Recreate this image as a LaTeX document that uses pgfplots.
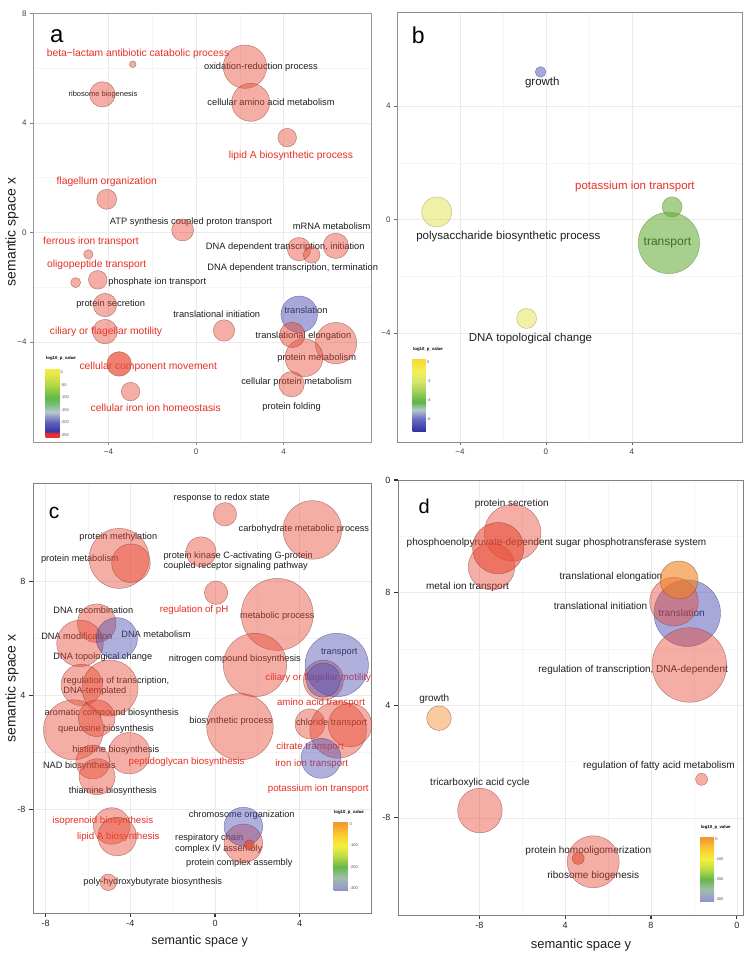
\documentclass[border=0pt]{standalone}
\usepackage{pgfplots}
\pgfplotsset{compat=1.18}
\usepackage{fontspec}
\setmainfont{Liberation Sans}

\definecolor{lblred}{RGB}{232,45,35}
\definecolor{txt}{RGB}{30,30,30}
\definecolor{bred}{RGB}{232,75,55}
\definecolor{bredd}{RGB}{130,60,50}
\definecolor{bblue}{RGB}{80,80,180}
\definecolor{bblued}{RGB}{60,60,130}
\definecolor{byel}{RGB}{225,225,80}
\definecolor{byeld}{RGB}{150,150,70}
\definecolor{bgreen}{RGB}{95,170,45}
\definecolor{bgreend}{RGB}{90,130,60}
\definecolor{borange}{RGB}{240,130,30}
\definecolor{bltorange}{RGB}{245,160,80}

\pgfplotsset{
  colormap={cma}{rgb255(0pt)=(235,45,45); rgb255(1.2pt)=(235,45,45); rgb255(2.4pt)=(60,55,165); rgb255(5.8pt)=(95,95,190); rgb255(10pt)=(185,200,210); rgb255(13pt)=(120,190,120); rgb255(15.8pt)=(95,185,70); rgb255(20.8pt)=(180,215,70); rgb255(25.8pt)=(235,235,70); rgb255(27.6pt)=(240,235,70)},
  colormap={cmb}{rgb255(0pt)=(50,50,160); rgb255(3.7pt)=(105,105,195); rgb255(6.7pt)=(180,200,200); rgb255(9.1pt)=(90,180,70); rgb255(12.7pt)=(165,210,90); rgb255(15.7pt)=(215,230,110); rgb255(18.7pt)=(240,240,90); rgb255(22.9pt)=(250,215,45)},
  colormap={cmc}{rgb255(0pt)=(140,145,200); rgb255(1.2pt)=(150,155,200); rgb255(6.2pt)=(160,190,170); rgb255(11.2pt)=(100,185,70); rgb255(16.2pt)=(190,220,70); rgb255(21.2pt)=(245,240,60); rgb255(26.2pt)=(250,205,50); rgb255(31.2pt)=(245,155,50); rgb255(32.4pt)=(245,150,50)},
  bub/.style n args={3}{scatter, only marks, mark=*,
    scatter/use mapped color={draw=#2, fill=#1, fill opacity=#3, draw opacity=0.6, line width=0.45pt},
    visualization depends on={\thisrow{r}\as\rr},
    scatter/@pre marker code/.append style={/tikz/mark size=\rr}},
  panel/.style={scale only axis, clip=false, anchor=south west,
    grid=both, minor tick num=1, minor tick length=0pt,
    major grid style={black!8, line width=0.5pt},
    minor grid style={black!4, line width=0.4pt},
    xtick pos=bottom, ytick pos=left,
    tick align=outside},
  cbar/.style n args={7}{colorbar, point meta min=#5, point meta max=#6,
    colorbar style={at={(parent axis.south west)}, anchor=south west,
      xshift=#1, yshift=#2, scale only axis, width=#3, height=#4,
      grid=none, ytick={#7}, yticklabel pos=right,
      /pgf/number format/assume math mode=true,
      yticklabel style={font=\fontsize{4}{4}\selectfont, text=black!70, inner sep=1pt},
      major tick length=0pt, axis line style={draw=none},
      title={log10\_p\_value},
      title style={at={(0,1)}, anchor=south west, inner sep=0.5pt, yshift=0.5pt,
        font=\fontsize{4.3}{5}\selectfont\bfseries}}},
}
\tikzset{
  la/.style={font=\fontsize{9.3}{10}\selectfont, text=txt, inner sep=0pt},
  lar/.style={font=\fontsize{10.3}{11}\selectfont, text=lblred, inner sep=0pt},
  lb/.style={font=\fontsize{11.5}{12}\selectfont, text=txt, inner sep=0pt},
  lbr/.style={font=\fontsize{11.5}{12}\selectfont, text=lblred, inner sep=0pt},
  lc/.style={font=\fontsize{9.2}{10.5}\selectfont, text=txt, inner sep=0pt},
  lcr/.style={font=\fontsize{9.7}{11}\selectfont, text=lblred, inner sep=0pt},
  ld/.style={font=\fontsize{10}{11}\selectfont, text=txt, inner sep=0pt},
}

\begin{document}
\begin{tikzpicture}
\path[use as bounding box] (0,0) rectangle (747pt,-954pt);

% ---------------- panel a ----------------
\begin{axis}[panel, at={(33pt,-442pt)}, width=338pt, height=429pt,
  xmin=-7.45, xmax=8.0, ymin=-7.65, ymax=8.01,
  xtick={-4,0,4}, xticklabels={−4,0,4},
  ytick={-4,0,4,8}, yticklabels={−4,0,4,8},
  tick label style={font=\fontsize{8}{9}\selectfont, text=black!75},
  axis line style={black!40, line width=0.6pt},
  tick style={black!50, line width=0.5pt}, major tick length=3pt,
  colormap name=cma,
  cbar={4pt}{5pt}{14pt}{69pt}{-258}{18}{-250,-200,-150,-100,-50,0}]
\addplot[bub={bred}{bredd}{0.45}] table[row sep=\\] {
X Y r\\
-2.89 6.14 3.3\\
2.24 6.05 21.7\\
-4.28 5.04 12.7\\
2.50 4.75 19\\
4.17 3.46 9.3\\
-4.08 1.21 10\\
-0.61 0.09 11\\
4.71 -0.61 11.7\\
5.29 -0.82 8.3\\
6.39 -0.49 12.7\\
-4.92 -0.80 4.7\\
-4.49 -1.73 9.3\\
-5.50 -1.83 5\\
-4.16 -2.65 11.7\\
1.28 -3.58 10.7\\
-4.16 -3.62 12.3\\
6.40 -4.04 20.7\\
4.94 -4.57 19\\
4.37 -5.54 12.7\\
-2.99 -5.81 9.3\\
};
\addplot[bub={bblue}{bblued}{0.5}] table[row sep=\\] {
X Y r\\
4.72 -2.99 18.3\\
};
\addplot[bub={bred}{bredd}{0.5}] table[row sep=\\] {
X Y r\\
4.40 -3.74 12.7\\
};
\addplot[bub={bred}{bredd}{0.7}] table[row sep=\\] {
X Y r\\
-3.51 -4.80 12.3\\
};
\node[lar] at (axis cs:-2.65,6.51) {beta−lactam antibiotic catabolic process};
\node[la] at (axis cs:2.97,6.05) {oxidation-reduction process};
\node[la, font=\fontsize{7.5}{8}\selectfont] at (axis cs:-4.25,5.05) {ribosome biogenesis};
\node[la] at (axis cs:3.43,4.77) {cellular amino acid metabolism};
\node[lar] at (axis cs:4.34,2.79) {lipid A biosynthetic process};
\node[lar] at (axis cs:-4.08,1.83) {flagellum organization};
\node[la] at (axis cs:-0.23,0.38) {ATP synthesis coupled proton transport};
\node[la] at (axis cs:6.20,0.24) {mRNA metabolism};
\node[la] at (axis cs:4.08,-0.52) {DNA dependent transcription, initiation};
\node[la] at (axis cs:4.42,-1.31) {DNA dependent transcription, termination};
\node[lar] at (axis cs:-4.80,-0.34) {ferrous iron transport};
\node[lar] at (axis cs:-4.54,-1.19) {oligopeptide transport};
\node[la] at (axis cs:-1.77,-1.83) {phosphate ion transport};
\node[la] at (axis cs:-3.90,-2.61) {protein secretion};
\node[la] at (axis cs:0.95,-2.97) {translational initiation};
\node[la] at (axis cs:5.03,-2.85) {translation};
\node[lar] at (axis cs:-4.11,-3.62) {ciliary or flagellar motility};
\node[la] at (axis cs:4.91,-3.80) {translational elongation};
\node[la] at (axis cs:5.52,-4.57) {protein metabolism};
\node[lar] at (axis cs:-2.18,-4.90) {cellular component movement};
\node[la] at (axis cs:4.60,-5.45) {cellular protein metabolism};
\node[lar] at (axis cs:-1.84,-6.42) {cellular iron ion homeostasis};
\node[la] at (axis cs:4.37,-6.39) {protein folding};
\end{axis}

% ---------------- panel b ----------------
\begin{axis}[panel, at={(397pt,-442pt)}, width=345pt, height=430pt,
  xmin=-6.93, xmax=9.12, ymin=-7.83, ymax=7.31,
  xtick={-4,0,4}, xticklabels={−4,0,4},
  ytick={-4,0,4}, yticklabels={−4,0,4},
  tick label style={font=\fontsize{8}{9}\selectfont, text=black!75},
  axis line style={black!45, line width=0.6pt},
  tick style={black!60, line width=0.5pt}, major tick length=3pt,
  colormap name=cmb,
  cbar={7pt}{11pt}{13.4pt}{72.7pt}{-7.24}{0.39}{-6,-4,-2,0}]
\addplot[bub={bblue}{bblued}{0.5}] table[row sep=\\] {
X Y r\\
-0.25 5.20 5.3\\
};
\addplot[bub={byel}{byeld}{0.5}] table[row sep=\\] {
X Y r\\
-5.08 0.27 15\\
-0.90 -3.48 10\\
};
\addplot[bub={bgreen}{bgreend}{0.55}] table[row sep=\\] {
X Y r\\
5.72 -0.82 30.7\\
5.87 0.45 10\\
};
\node[lb] at (axis cs:-0.17,4.82) {growth};
\node[lb] at (axis cs:-1.75,-0.61) {polysaccharide biosynthetic process};
\node[lbr] at (axis cs:4.14,1.18) {potassium ion transport};
\node[lb, font=\fontsize{12}{13}\selectfont] at (axis cs:5.65,-0.82) {transport};
\node[lb] at (axis cs:-0.72,-4.18) {DNA topological change};
\end{axis}

% ---------------- panel c ----------------
\begin{axis}[panel, at={(33pt,-913pt)}, width=338pt, height=430pt,
  xmin=-8.60, xmax=7.37, ymin=-3.65, ymax=11.47,
  xtick={-8,-4,0,4}, xticklabels={-8,-4,0,4},
  ytick={0,4,8}, yticklabels={-8,4,8},
  tick label style={font=\fontsize{9}{10}\selectfont, text=black!85},
  axis line style={black!50, line width=0.8pt},
  tick style={black!80, line width=1.1pt}, major tick length=4pt,
  colormap name=cmc,
  cbar={292pt}{22.3pt}{15pt}{69pt}{-312}{9}{-300,-200,-100,0}]
\addplot[bub={bred}{bredd}{0.45}] table[row sep=\\] {
X Y r\\
0.47 10.37 11.7\\
4.60 9.82 29.3\\
-4.53 8.82 30\\
-3.97 8.65 19.3\\
-0.66 9.05 15\\
0.05 7.61 11.7\\
2.94 6.85 36\\
-5.59 6.54 19.3\\
-6.38 5.83 23.3\\
1.89 5.07 31.7\\
-6.30 4.37 20.7\\
-4.96 4.26 28\\
-6.69 2.79 30\\
-5.59 3.20 18.3\\
-4.05 1.97 20.7\\
-5.77 1.66 17\\
-5.57 1.14 18\\
1.18 2.90 33.3\\
5.12 4.54 20\\
4.49 3.00 15\\
5.82 2.79 28.3\\
6.38 2.96 21.7\\
-4.88 -0.59 18.3\\
-4.62 -0.96 19.3\\
1.34 -1.20 19.3\\
-5.04 -2.57 8.3\\
};
\addplot[bub={bblue}{bblued}{0.45}] table[row sep=\\] {
X Y r\\
-4.64 6.01 20.7\\
5.75 5.07 31.7\\
5.12 4.54 17\\
5.01 1.79 20\\
1.34 -0.61 19.3\\
};
\addplot[bub={bred}{bredd}{0.7}] table[row sep=\\] {
X Y r\\
1.62 -1.25 5\\
};
\node[lc] at (axis cs:0.32,10.95) {response to redox state};
\node[lc] at (axis cs:4.20,9.84) {carbohydrate metabolic process};
\node[lc] at (axis cs:-4.57,9.55) {protein methylation};
\node[lc] at (axis cs:-6.38,8.79) {protein metabolism};
\node[lc, anchor=west, align=left] at (axis cs:-2.44,8.73) {protein kinase C-activating G-protein\\coupled receptor signaling pathway};
\node[lcr] at (axis cs:-0.99,7.01) {regulation of pH};
\node[lc] at (axis cs:2.94,6.80) {metabolic process};
\node[lc] at (axis cs:-5.75,6.98) {DNA recombination};
\node[lc] at (axis cs:-6.53,6.09) {DNA modification};
\node[lc] at (axis cs:-2.79,6.15) {DNA metabolism};
\node[lc] at (axis cs:-5.30,5.36) {DNA topological change};
\node[lc] at (axis cs:0.94,5.27) {nitrogen compound biosynthesis};
\node[lc] at (axis cs:5.87,5.50) {transport};
\node[lc, anchor=west, align=left] at (axis cs:-7.17,4.33) {regulation of transcription,\\DNA-templated};
\node[lcr] at (axis cs:4.88,4.60) {ciliary or flagellar motility};
\node[lc] at (axis cs:-4.88,3.37) {aromatic compound biosynthesis};
\node[lcr] at (axis cs:5.01,3.73) {amino acid transport};
\node[lc] at (axis cs:0.76,3.08) {biosynthetic process};
\node[lc] at (axis cs:5.51,3.02) {chloride transport};
\node[lc] at (axis cs:-5.15,2.81) {queuosine biosynthesis};
\node[lcr] at (axis cs:4.49,2.20) {citrate transport};
\node[lc] at (axis cs:-4.69,2.08) {histidine biosynthesis};
\node[lcr] at (axis cs:-1.34,1.65) {peptidoglycan biosynthesis};
\node[lcr] at (axis cs:4.57,1.59) {iron ion transport};
\node[lc] at (axis cs:-6.41,1.50) {NAD biosynthesis};
\node[lcr] at (axis cs:4.88,0.71) {potassium ion transport};
\node[lc] at (axis cs:-4.83,0.64) {thiamine biosynthesis};
\node[lc] at (axis cs:1.26,-0.20) {chromosome organization};
\node[lcr] at (axis cs:-5.30,-0.40) {isoprenoid biosynthesis};
\node[lcr] at (axis cs:-4.57,-0.98) {lipid A biosynthesis};
\node[lc, anchor=west, align=left] at (axis cs:-1.89,-1.21) {respiratory chain\\complex IV assembly};
\node[lc] at (axis cs:1.15,-1.88) {protein complex assembly};
\node[lc] at (axis cs:-2.94,-2.58) {poly-hydroxybutyrate biosynthesis};
\end{axis}

% ---------------- panel d ----------------
\begin{axis}[panel, at={(398pt,-915pt)}, width=345pt, height=435pt,
  xmin=-11.79, xmax=4.29, ymin=-11.45, ymax=4.0,
  xtick={-8,-4,0,4}, xticklabels={-8,4,8,0},
  ytick={-8,-4,0,4}, yticklabels={-8,4,8,0},
  tick label style={font=\fontsize{9}{10}\selectfont, text=black!85},
  axis line style={black!50, line width=0.8pt},
  tick style={black!80, line width=1.1pt}, major tick length=4pt,
  colormap name=cmc,
  cbar={293.7pt}{13.3pt}{14pt}{65pt}{-313}{11}{-300,-200,-100,0}]
\addplot[bub={bblue}{bblued}{0.5}] table[row sep=\\] {
X Y r\\
1.69 -0.73 33.3\\
};
\addplot[bub={bred}{bredd}{0.45}] table[row sep=\\] {
X Y r\\
-6.45 2.13 28.3\\
-7.43 0.92 23.3\\
1.07 -0.32 24.3\\
1.79 -2.57 37.3\\
2.36 -6.63 6\\
-7.97 -7.74 22.3\\
-2.69 -9.56 26\\
};
\addplot[bub={bred}{bredd}{0.6}] table[row sep=\\] {
X Y r\\
-7.12 1.58 25.7\\
-3.39 -9.44 6\\
};
\addplot[bub={borange}{bredd}{0.6}] table[row sep=\\] {
X Y r\\
1.31 0.45 19\\
};
\addplot[bub={bltorange}{bredd}{0.55}] table[row sep=\\] {
X Y r\\
-9.88 -4.46 12.3\\
};
\node[ld] at (axis cs:-6.49,3.14) {protein secretion};
\node[ld] at (axis cs:-4.40,1.78) {phosphoenolpyruvate-dependent sugar phosphotransferase system};
\node[ld] at (axis cs:-8.55,0.19) {metal ion transport};
\node[ld] at (axis cs:-1.86,0.55) {translational elongation};
\node[ld] at (axis cs:-2.35,-0.47) {translational initiation};
\node[ld] at (axis cs:1.43,-0.73) {translation};
\node[ld] at (axis cs:-0.83,-2.75) {regulation of transcription, DNA-dependent};
\node[ld] at (axis cs:-10.10,-3.79) {growth};
\node[ld] at (axis cs:0.37,-6.16) {regulation of fatty acid metabolism};
\node[ld] at (axis cs:-7.97,-6.75) {tricarboxylic acid cycle};
\node[ld] at (axis cs:-2.92,-9.18) {protein homooligomerization};
\node[ld] at (axis cs:-2.69,-10.05) {ribosome biogenesis};
\end{axis}

% panel letters and axis titles
\node[font=\fontsize{24}{26}\selectfont, inner sep=0pt] at (56.7pt,-36pt) {a};
\node[font=\fontsize{23}{26}\selectfont, inner sep=0pt] at (418.3pt,-35pt) {b};
\node[font=\fontsize{21}{24}\selectfont, inner sep=0pt] at (54pt,-513pt) {c};
\node[font=\fontsize{20}{24}\selectfont, inner sep=0pt] at (424.3pt,-506.5pt) {d};
\node[rotate=90, font=\fontsize{14}{15}\selectfont, text=txt] at (12pt,-232pt) {semantic space x};
\node[rotate=90, font=\fontsize{14}{15}\selectfont, text=txt] at (12pt,-688.5pt) {semantic space x};
\node[font=\fontsize{12.5}{14}\selectfont, text=txt] at (199.7pt,-941.7pt) {semantic space y};
\node[font=\fontsize{13}{14}\selectfont, text=txt] at (581pt,-945pt) {semantic space y};
\end{tikzpicture}
\end{document}
